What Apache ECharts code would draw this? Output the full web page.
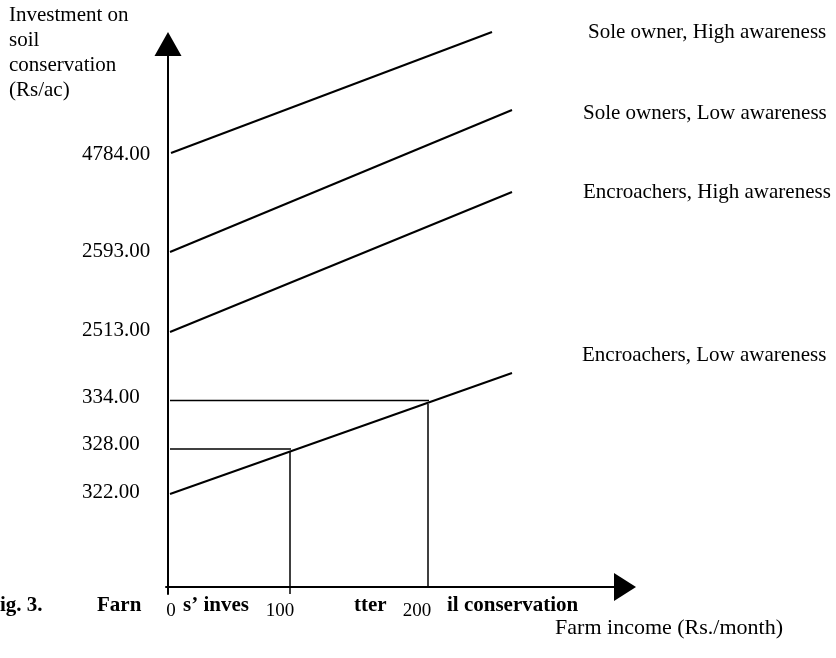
<!DOCTYPE html>
<html>
<head>
<meta charset="utf-8">
<script src="https://cdn.jsdelivr.net/npm/echarts@6/dist/echarts.min.js"></script>
<style>
html,body{margin:0;padding:0;background:#fff;}
#chart{width:836px;height:658px;}
</style>
</head>
<body>
<div id="chart"></div>
<script>
// Schematic figure: positions are in drawing units (not to scale), labels carry the values.
const seriesNames = ['Sole owner, High awareness', 'Sole owners, Low awareness', 'Encroachers, High awareness', 'Encroachers, Low awareness'];
const lineStartX = [3, 2, 2, 2];
const lineStartY = [434, 335, 255, 93];
const lineEndX = [324, 344, 344, 344];
const lineEndY = [555, 477, 395, 214];
const labelDx = [96, 71, 71, 70];
const labelDy = [0, 3, 0, -18];

const yTickLabels = ['322.00', '328.00', '334.00', '2513.00', '2593.00', '4784.00'];
const yTickPos = [95, 143, 190, 257, 336, 433];

const xTickLabels = ['0', '100', '200'];
const xTickPos = [0, 122, 260];

// guide lines from the Encroachers/Low-awareness line at income 100 and 200
const guideX = [122, 260];
const guideLevel = [138, 186.5];
const guideTop = [135, 183];

const FONT = '"Times New Roman", "Liberation Serif", serif';

const series = seriesNames.map((name, i) => ({
  name: name,
  type: 'line',
  clip: false,
  symbol: 'none',
  silent: true,
  lineStyle: { color: '#000', width: 2 },
  data: [[lineStartX[i], lineStartY[i]], [lineEndX[i], lineEndY[i]]],
  endLabel: {
    show: true,
    formatter: '{a}',
    distance: 0,
    offset: [labelDx[i], labelDy[i]],
    color: '#000',
    fontFamily: FONT,
    fontSize: 21
  }
}));

guideX.forEach((gx, i) => {
  series.push({
    type: 'line', symbol: 'none', silent: true, clip: false,
    lineStyle: { color: '#000', width: 1.5 },
    data: [[2, guideLevel[i]], [gx + 1, guideLevel[i]]]
  });
  series.push({
    type: 'line', symbol: 'none', silent: true, clip: false,
    lineStyle: { color: '#000', width: 1.5 },
    data: [[gx, guideTop[i]], [gx, 0]]
  });
});

const xRich = {
  t0: { fontFamily: FONT, fontSize: 19, color: '#000', padding: [0, 0, 0, 6] },
  t1: { fontFamily: FONT, fontSize: 19, color: '#000', padding: [0, 20, 0, 0] },
  t2: { fontFamily: FONT, fontSize: 19, color: '#000', padding: [0, 22, 0, 0] }
};

const chart = echarts.init(document.getElementById('chart'), null, { renderer: 'canvas' });
chart.setOption({
  backgroundColor: '#fff',
  animation: false,
  grid: { left: 166, right: 211, top: 44, bottom: 64, containLabel: false },
  xAxis: {
    type: 'value', min: -2, max: 457,
    splitLine: { show: false },
    axisLine: { show: true, onZero: true, symbol: ['none', 'triangle'], symbolSize: [28, 22], lineStyle: { color: '#000', width: 2 } },
    axisTick: { show: true, customValues: [xTickPos[0], xTickPos[1]], length: 7, lineStyle: { color: '#000', width: 1.5 } },
    axisLabel: {
      customValues: xTickPos,
      formatter: v => { const k = xTickPos.indexOf(v); return k >= 0 ? '{t' + k + '|' + xTickLabels[k] + '}' : ''; },
      rich: xRich,
      margin: 8, color: '#000', fontFamily: FONT, fontSize: 19
    }
  },
  yAxis: {
    type: 'value', min: -7, max: 543,
    splitLine: { show: false },
    axisLine: { show: true, onZero: true, symbol: ['none', 'triangle'], symbolSize: [27, 24], lineStyle: { color: '#000', width: 2 } },
    axisTick: { show: false },
    axisLabel: {
      customValues: yTickPos,
      formatter: v => { const k = yTickPos.indexOf(v); return k >= 0 ? yTickLabels[k] : ''; },
      align: 'left',
      margin: 84, color: '#000', fontFamily: FONT, fontSize: 21
    }
  },
  graphic: [
    { type: 'text', left: 9, top: 3, z: 10, style: { text: 'Investment on\nsoil\nconservation\n(Rs/ac)', font: '21px ' + FONT, fill: '#000', lineHeight: 25 } },
    { type: 'text', x: 0, y: 606, z: 10, style: { text: 'ig. 3.', font: 'bold 21px ' + FONT, fill: '#000', verticalAlign: 'middle' } },
    { type: 'text', x: 97, y: 606, z: 10, style: { text: 'Farn', font: 'bold 21px ' + FONT, fill: '#000', verticalAlign: 'middle' } },
    { type: 'text', x: 183, y: 606, z: 10, style: { text: 's\u2019 inves', font: 'bold 21px ' + FONT, fill: '#000', verticalAlign: 'middle' } },
    { type: 'text', x: 354, y: 606, z: 10, style: { text: 'tter', font: 'bold 21px ' + FONT, fill: '#000', verticalAlign: 'middle' } },
    { type: 'text', x: 447, y: 606, z: 10, style: { text: 'il conservation', font: 'bold 21px ' + FONT, fill: '#000', verticalAlign: 'middle' } },
    { type: 'text', x: 783, y: 628, z: 11, style: { text: 'Farm income (Rs./month)', font: '22px ' + FONT, fill: '#000', align: 'right', verticalAlign: 'middle' } }
  ],
  series: series
});
</script>
</body>
</html>
